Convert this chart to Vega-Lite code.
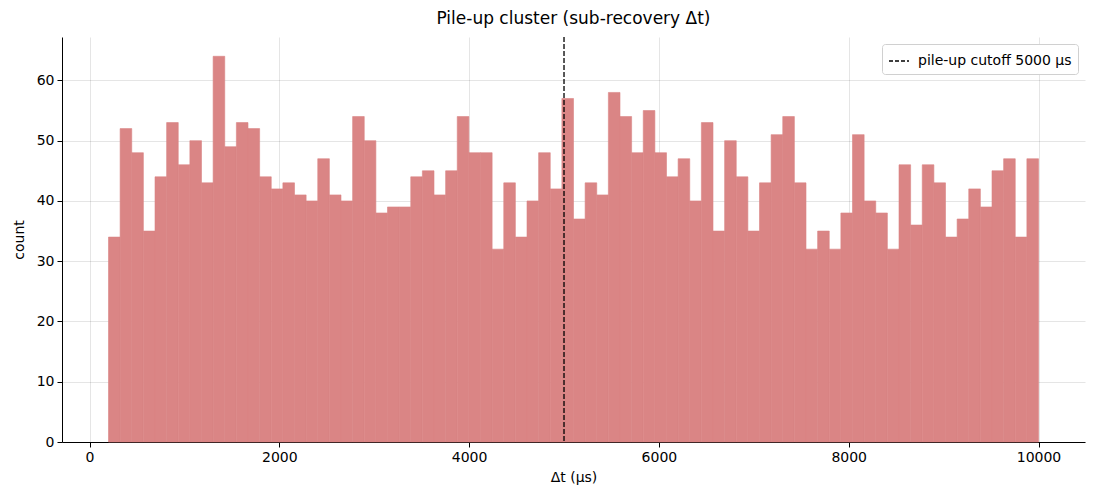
{
  "$schema": "https://vega.github.io/schema/vega-lite/v6.json",
  "width": 1023,
  "height": 405,
  "autosize": {"type": "none"},
  "padding": {"left": 62, "top": 37, "right": 15, "bottom": 58},
  "background": "white",
  "title": {
    "text": "Pile-up cluster (sub-recovery Δt)",
    "font": "DejaVu Sans",
    "fontSize": 17,
    "fontWeight": "normal",
    "color": "black",
    "offset": 8
  },
  "config": {
    "font": "DejaVu Sans",
    "view": {"stroke": null},
    "axis": {
      "labelFont": "DejaVu Sans",
      "labelFontSize": 14,
      "labelColor": "black",
      "titleFont": "DejaVu Sans",
      "titleFontSize": 14,
      "titleFontWeight": "normal",
      "titleColor": "black",
      "domainColor": "black",
      "tickColor": "black",
      "tickSize": 5,
      "gridColor": "black",
      "gridOpacity": 0.1,
      "labelPadding": 3,
      "zindex": 1
    },
    "legend": {
      "labelFont": "DejaVu Sans",
      "labelFontSize": 14,
      "labelColor": "black"
    }
  },
  "data": {
    "values": [
      {"start": 200.0, "end": 322.5, "count": 34},
      {"start": 322.5, "end": 445.0, "count": 52},
      {"start": 445.0, "end": 567.5, "count": 48},
      {"start": 567.5, "end": 690.0, "count": 35},
      {"start": 690.0, "end": 812.5, "count": 44},
      {"start": 812.5, "end": 935.0, "count": 53},
      {"start": 935.0, "end": 1057.5, "count": 46},
      {"start": 1057.5, "end": 1180.0, "count": 50},
      {"start": 1180.0, "end": 1302.5, "count": 43},
      {"start": 1302.5, "end": 1425.0, "count": 64},
      {"start": 1425.0, "end": 1547.5, "count": 49},
      {"start": 1547.5, "end": 1670.0, "count": 53},
      {"start": 1670.0, "end": 1792.5, "count": 52},
      {"start": 1792.5, "end": 1915.0, "count": 44},
      {"start": 1915.0, "end": 2037.5, "count": 42},
      {"start": 2037.5, "end": 2160.0, "count": 43},
      {"start": 2160.0, "end": 2282.5, "count": 41},
      {"start": 2282.5, "end": 2405.0, "count": 40},
      {"start": 2405.0, "end": 2527.5, "count": 47},
      {"start": 2527.5, "end": 2650.0, "count": 41},
      {"start": 2650.0, "end": 2772.5, "count": 40},
      {"start": 2772.5, "end": 2895.0, "count": 54},
      {"start": 2895.0, "end": 3017.5, "count": 50},
      {"start": 3017.5, "end": 3140.0, "count": 38},
      {"start": 3140.0, "end": 3262.5, "count": 39},
      {"start": 3262.5, "end": 3385.0, "count": 39},
      {"start": 3385.0, "end": 3507.5, "count": 44},
      {"start": 3507.5, "end": 3630.0, "count": 45},
      {"start": 3630.0, "end": 3752.5, "count": 41},
      {"start": 3752.5, "end": 3875.0, "count": 45},
      {"start": 3875.0, "end": 3997.5, "count": 54},
      {"start": 3997.5, "end": 4120.0, "count": 48},
      {"start": 4120.0, "end": 4242.5, "count": 48},
      {"start": 4242.5, "end": 4365.0, "count": 32},
      {"start": 4365.0, "end": 4487.5, "count": 43},
      {"start": 4487.5, "end": 4610.0, "count": 34},
      {"start": 4610.0, "end": 4732.5, "count": 40},
      {"start": 4732.5, "end": 4855.0, "count": 48},
      {"start": 4855.0, "end": 4977.5, "count": 42},
      {"start": 4977.5, "end": 5100.0, "count": 57},
      {"start": 5100.0, "end": 5222.5, "count": 37},
      {"start": 5222.5, "end": 5345.0, "count": 43},
      {"start": 5345.0, "end": 5467.5, "count": 41},
      {"start": 5467.5, "end": 5590.0, "count": 58},
      {"start": 5590.0, "end": 5712.5, "count": 54},
      {"start": 5712.5, "end": 5835.0, "count": 48},
      {"start": 5835.0, "end": 5957.5, "count": 55},
      {"start": 5957.5, "end": 6080.0, "count": 48},
      {"start": 6080.0, "end": 6202.5, "count": 44},
      {"start": 6202.5, "end": 6325.0, "count": 47},
      {"start": 6325.0, "end": 6447.5, "count": 40},
      {"start": 6447.5, "end": 6570.0, "count": 53},
      {"start": 6570.0, "end": 6692.5, "count": 35},
      {"start": 6692.5, "end": 6815.0, "count": 50},
      {"start": 6815.0, "end": 6937.5, "count": 44},
      {"start": 6937.5, "end": 7060.0, "count": 35},
      {"start": 7060.0, "end": 7182.5, "count": 43},
      {"start": 7182.5, "end": 7305.0, "count": 51},
      {"start": 7305.0, "end": 7427.5, "count": 54},
      {"start": 7427.5, "end": 7550.0, "count": 43},
      {"start": 7550.0, "end": 7672.5, "count": 32},
      {"start": 7672.5, "end": 7795.0, "count": 35},
      {"start": 7795.0, "end": 7917.5, "count": 32},
      {"start": 7917.5, "end": 8040.0, "count": 38},
      {"start": 8040.0, "end": 8162.5, "count": 51},
      {"start": 8162.5, "end": 8285.0, "count": 40},
      {"start": 8285.0, "end": 8407.5, "count": 38},
      {"start": 8407.5, "end": 8530.0, "count": 32},
      {"start": 8530.0, "end": 8652.5, "count": 46},
      {"start": 8652.5, "end": 8775.0, "count": 36},
      {"start": 8775.0, "end": 8897.5, "count": 46},
      {"start": 8897.5, "end": 9020.0, "count": 43},
      {"start": 9020.0, "end": 9142.5, "count": 34},
      {"start": 9142.5, "end": 9265.0, "count": 37},
      {"start": 9265.0, "end": 9387.5, "count": 42},
      {"start": 9387.5, "end": 9510.0, "count": 39},
      {"start": 9510.0, "end": 9632.5, "count": 45},
      {"start": 9632.5, "end": 9755.0, "count": 47},
      {"start": 9755.0, "end": 9877.5, "count": 34},
      {"start": 9877.5, "end": 10000.0, "count": 47}
    ]
  },
  "layer": [
    {
      "mark": {"type": "bar", "color": "#da8585", "stroke": "#da8585", "strokeWidth": 0.6, "binSpacing": 0},
      "encoding": {
        "x": {
          "field": "start",
          "type": "quantitative",
          "title": "Δt (µs)",
          "scale": {"domain": [-290, 10490], "nice": false, "zero": false},
          "axis": {"values": [0, 2000, 4000, 6000, 8000, 10000], "format": "d", "grid": true, "titlePadding": 6}
        },
        "x2": {"field": "end"},
        "y": {
          "field": "count",
          "type": "quantitative",
          "title": "count",
          "scale": {"domain": [0, 67.2], "nice": false, "padding": 0},
          "axis": {"values": [0, 10, 20, 30, 40, 50, 60], "grid": true, "titlePadding": 10}
        },
        "y2": {"datum": 0}
      }
    },
    {
      "data": {"values": [{"cutoff": 5000, "label": "pile-up cutoff 5000 µs"}]},
      "mark": {"type": "rule", "strokeDash": [5, 2], "strokeWidth": 1.3},
      "encoding": {
        "x": {"field": "cutoff", "type": "quantitative"},
        "color": {
          "field": "label",
          "type": "nominal",
          "scale": {"range": ["black"]},
          "legend": {
            "title": null,
            "orient": "top-right",
            "offset": 7,
            "symbolType": "stroke",
            "symbolStrokeWidth": 1.3,
            "symbolDash": [4, 2],
            "symbolSize": 400,
            "fillColor": "white",
            "strokeColor": "#d0d0d0",
            "cornerRadius": 3,
            "padding": 6,
            "labelOffset": 8,
            "zindex": 2
          }
        }
      }
    }
  ]
}
